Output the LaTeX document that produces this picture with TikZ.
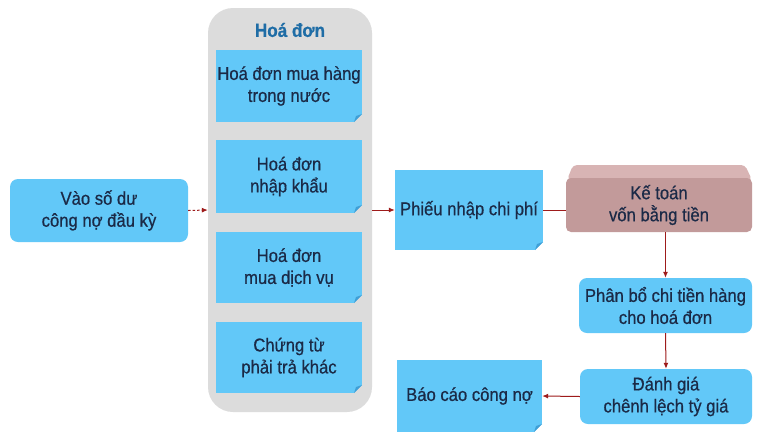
\documentclass[tikz,border=0pt]{standalone}
\usepackage{fontspec}
\setmainfont{Liberation Sans}[FakeStretch=0.9, FakeBold=0.6]
\usetikzlibrary{arrows.meta,calc}
\definecolor{boxblue}{HTML}{62C8F8}
\definecolor{foldblue}{HTML}{3F9FD6}
\definecolor{txt}{HTML}{1B2A47}
\definecolor{arrred}{HTML}{9E1B1B}
\definecolor{grayc}{HTML}{DCDCDC}
\definecolor{rosef}{HTML}{C29A9A}
\definecolor{roset}{HTML}{D8B4B4}
\definecolor{titleblue}{HTML}{1F6DA6}
\tikzset{
  lbl/.style={font=\fontsize{18.5}{22}\selectfont, text=txt, align=center, inner sep=0pt},
  roundbox/.style={lbl, fill=boxblue, rounded corners=8pt},
  notebox/.style={lbl, fill=boxblue, path picture={
      \fill[#1] ($(path picture bounding box.south east)+(-8pt,0pt)$) -- (path picture bounding box.south east) -- ($(path picture bounding box.south east)+(0pt,8pt)$) -- cycle;
      \fill[foldblue] ($(path picture bounding box.south east)+(-8pt,0pt)$) -- ($(path picture bounding box.south east)+(0pt,8pt)$) -- ($(path picture bounding box.south east)+(-6pt,6pt)$) -- cycle;}},
  flow/.style={draw=arrred, line width=1pt, -{Latex[length=6pt,width=5pt]}},
  dflow/.style={flow, dash pattern=on 2.5pt off 2pt},
}
\begin{document}
\begin{tikzpicture}[x=1pt,y=-1pt]
\useasboundingbox[fill=white] (0,0) rectangle (760,432);
% container
\node[fill=grayc, rounded corners=25pt, minimum width=164pt, minimum height=404pt, inner sep=0pt] (cont) at (290,210) {};
\node[font=\bfseries\fontsize{19}{22}\selectfont, text=titleblue, inner sep=0pt] (title) at (290,30) {Hoá đơn};
\node[notebox=grayc, minimum width=146pt, minimum height=72pt] (hd1) at (289,86) {Hoá đơn mua hàng\\trong nước};
\node[notebox=grayc, minimum width=146pt, minimum height=73pt] (hd2) at (289,176.5) {Hoá đơn\\nhập khẩu};
\node[notebox=grayc, minimum width=146pt, minimum height=71pt] (hd3) at (289,267.5) {Hoá đơn\\mua dịch vụ};
\node[notebox=grayc, minimum width=146pt, minimum height=71pt] (hd4) at (289,357.5) {Chứng từ\\phải trả khác};
% left box
\node[roundbox, minimum width=178pt, minimum height=63pt] (lb) at (99,210.5) {Vào số dư\\công nợ đầu kỳ};
% phieu
\node[notebox=white, minimum width=148pt, minimum height=80pt] (ph) at (469,210) {Phiếu nhập chi phí};
% ke toan 3D
\fill[roset, rounded corners=4pt] (567,180) -- (573,165) -- (745,165) -- (752,180) -- cycle;
\node[lbl, fill=rosef, rounded corners=5pt, minimum width=186pt, minimum height=54pt] (kt) at (659,205) {Kế toán\\vốn bằng tiền};
% right column
\node[roundbox, minimum width=173pt, minimum height=55pt] (pb) at (665.5,305.5) {Phân bổ chi tiền hàng\\cho hoá đơn};
\node[roundbox, minimum width=172pt, minimum height=55pt] (dg) at (666,396.5) {Đánh giá\\chênh lệch tỷ giá};
\node[notebox=white, minimum width=145pt, minimum height=72pt] (bc) at (469.5,396) {Báo cáo công nợ};
% connectors
\draw[dflow] (lb.east) -- (cont.west);
\draw[flow] (cont.east) -- (ph.west);
\draw[draw=arrred, line width=1pt] (ph.east) -- (ph.east -| kt.west);
\draw[flow] (kt.south -| pb.north) -- (pb.north);
\draw[flow] (pb.south) -- (dg.north);
\draw[flow] (dg.west) -- (bc.east);
\end{tikzpicture}
\end{document}
